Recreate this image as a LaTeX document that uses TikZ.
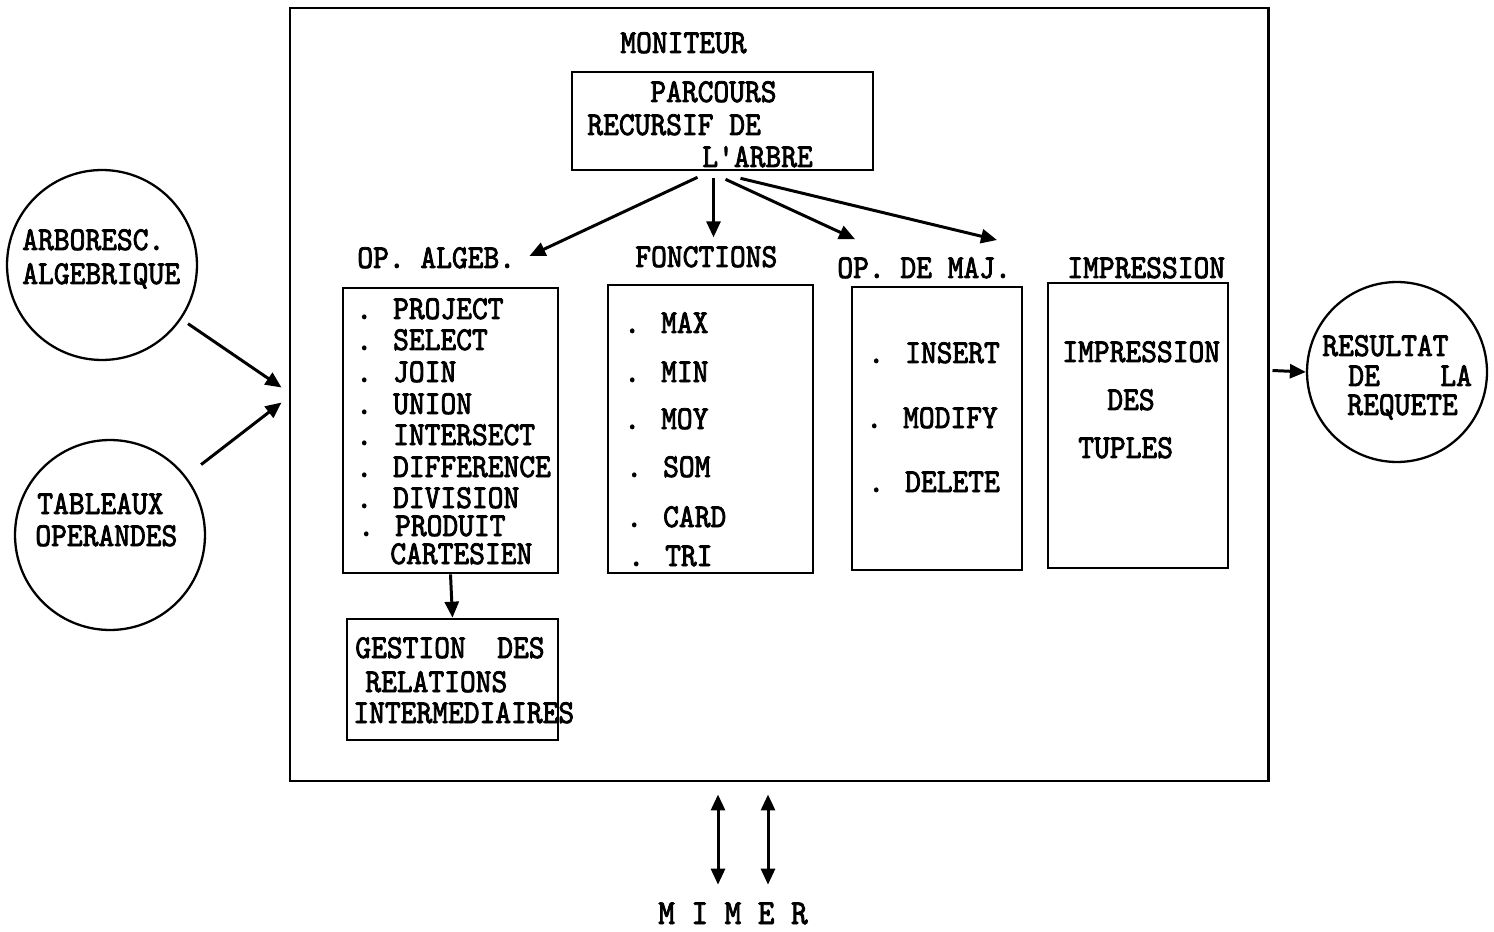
\documentclass[tikz,border=0pt]{standalone}
\usepackage{fontspec}
\usetikzlibrary{arrows.meta,fit,calc}
% heavy, narrow typewriter face
\newfontfamily\tw{lmmono10-regular.otf}[FakeBold=2.4, FakeStretch=0.9]
\begin{document}
\begin{tikzpicture}[x=0.02cm,y=-0.02cm,
  every node/.style={font={\fontsize{19}{22}\selectfont\tw}, inner sep=0pt},
  txt/.style={anchor=base west, text height=0.41cm, text depth=0pt},
  box/.style={draw, line width=1.5pt, inner sep=0pt},
  circ/.style={draw, circle, line width=1.3pt},
  arr/.style={-{Triangle[length=0.32cm,width=0.28cm]}, line width=1.7pt},
  dbl/.style={{Triangle[length=0.32cm,width=0.28cm]}-{Triangle[length=0.32cm,width=0.28cm]}, line width=1.7pt}]
\useasboundingbox (0,0) rectangle (1494,932);

% moniteur frame
\node[box, line width=1.7pt, fit={(290,8) (1268,781)}] (main) {};
\node[txt] (moniteur) at (620,53) {MONITEUR};

% recursive traversal box
\node[box, fit={(572,72) (873,170)}] (parc) {};
\node[txt] (parc1) at (650,102) {PARCOURS};
\node[txt] (parc2) at (587,135) {RECURSIF DE};
\node[txt] (parc3) at (702,167) {L'ARBRE};

% column headings
\node[txt] (opalg) at (357,268) {OP. ALGEB.};
\node[txt] (fonc) at (635,267) {FONCTIONS};
\node[txt] (opmaj) at (837,278) {OP. DE MAJ.};
\node[txt] (impr) at (1067,278) {IMPRESSION};

% algebraic operators
\node[box, fit={(343,288) (558,573)}] (alg) {};
\node[txt] (a1) at (356,319) {. PROJECT};
\node[txt] (a2) at (356,350) {. SELECT};
\node[txt] (a3) at (356,382) {. JOIN};
\node[txt] (a4) at (356,414) {. UNION};
\node[txt] (a5) at (356,445) {. INTERSECT};
\node[txt] (a6) at (356,477) {. DIFFERENCE};
\node[txt] (a7) at (356,508) {. DIVISION};
\node[txt] (a8) at (358,536) {. PRODUIT};
\node[txt] (a9) at (390,564) {CARTESIEN};

% intermediate relations
\node[box, fit={(347,619) (558,740)}] (gest) {};
\node[txt] (g1) at (355,658) {GESTION\ \ DES};
\node[txt] (g2) at (365,692) {RELATIONS};
\node[txt] (g3) at (353,723) {INTERMEDIAIRES};

% functions
\node[box, fit={(608,285) (813,573)}] (fct) {};
\node[txt] (f1) at (624,333) {. MAX};
\node[txt] (f2) at (624,382) {. MIN};
\node[txt] (f3) at (624,429) {. MOY};
\node[txt] (f4) at (626,477) {. SOM};
\node[txt] (f5) at (626,527) {. CARD};
\node[txt] (f6) at (628,566) {. TRI};

% update operators
\node[box, fit={(852,287) (1022,570)}] (maj) {};
\node[txt] (m1) at (868,363) {. INSERT};
\node[txt] (m2) at (866,428) {. MODIFY};
\node[txt] (m3) at (868,492) {. DELETE};

% printing
\node[box, fit={(1048,283) (1228,568)}] (imp) {};
\node[txt] (i1) at (1062,362) {IMPRESSION};
\node[txt] (i2) at (1107,410) {DES};
\node[txt] (i3) at (1078,458) {TUPLES};

% inputs
\node[circ, minimum size=3.8cm] (arb) at (102,265) {};
\node[txt] (arb1) at (22,250) {ARBORESC.};
\node[txt] (arb2) at (22,284) {ALGEBRIQUE};
\node[circ, minimum size=3.8cm] (tab) at (110,535) {};
\node[txt] (tab1) at (37,514) {TABLEAUX};
\node[txt] (tab2) at (35,546) {OPERANDES};

% output
\node[circ, minimum size=3.6cm] (res) at (1397,372) {};
\node[txt] (r1) at (1322,356) {RESULTAT};
\node[txt] (r2) at (1348,386) {DE};
\node[txt] (r3) at (1440,386) {LA};
\node[txt] (r4) at (1347,415) {REQUETE};

% MIMER
\node[anchor=base, text height=0.42cm, text depth=0pt, font={\fontsize{20}{22}\selectfont\tw}] (mimer) at (733,924) {M I M E R};

% connectors
\coordinate (c4) at (997,240);
\draw[arr] ($(parc.south)+(-25,6)$) -- ($(opalg.base east)+(14,-12)$);
\draw[arr] ($(parc.south)+(-9,7)$) -- ($(parc.south)+(-9,66)$);
\draw[arr] ($(parc.south)+(3,8)$) -- ($(opmaj.north west)+(18,-18)$);
\draw[arr] ($(parc.south)+(18,7)$) -- (c4);
\draw[arr] (alg.south) -- (gest.north);
\draw[arr, shorten <=0.16cm] (arb) -- ($(main.west)+(-7,-7)$);
\draw[arr, shorten <=0.38cm] (tab) -- ($(main.west)+(-7,8)$);
\draw[arr] ($(main.east)+(3,-24)$) -- (res.west);
\draw[dbl] ($(main.south)+(-61,12)$) -- ($(mimer.north)+(-15,-18)$);
\draw[dbl] ($(main.south)+(-11,12)$) -- ($(mimer.north)+(35,-18)$);
\end{tikzpicture}
\end{document}
